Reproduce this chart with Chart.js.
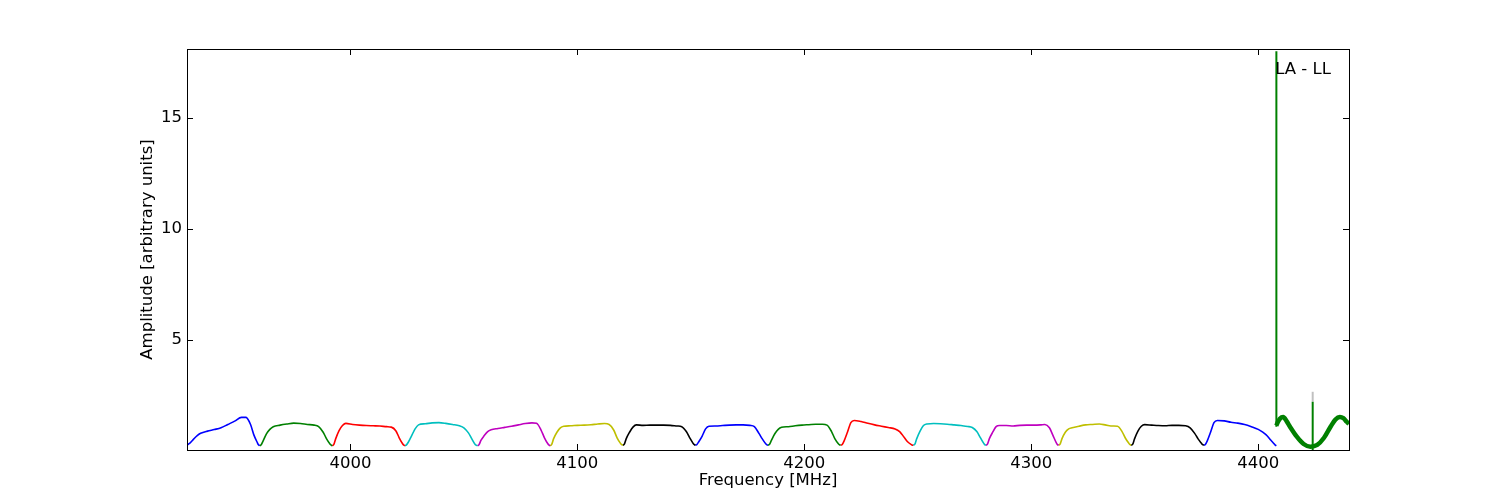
<!DOCTYPE html>
<html>
<head>
<meta charset="utf-8">
<title>LA - LL</title>
<script src="https://cdn.jsdelivr.net/npm/chart.js@4/dist/chart.umd.min.js"></script>
<style>
  body { margin: 0; background: #fff; }
  #chart { display: block; }
</style>
</head>
<body>
<canvas id="chart" width="1500" height="500"></canvas>
<script>
// band start frequencies (MHz), each band is 32 MHz wide
var bandStart = [3928, 3960, 3992, 4024, 4056, 4088, 4120, 4152, 4184, 4216, 4248, 4280, 4312, 4344, 4376, 4408];
// sample offsets inside a band (MHz)
var offsets = [0, 0.7, 1.5, 3, 4.5, 6, 9, 12, 15, 18, 21, 24, 26, 28, 29.5, 31, 31.4, 32];

// amplitude per band, one value per offset
var amp3928 = [0.27, 0.32, 0.38, 0.55, 0.70, 0.80, 0.90, 0.97, 1.05, 1.20, 1.35, 1.52, 1.52, 1.20, 0.72, 0.38, 0.30, 0.24];
var amp3960 = [0.24, 0.29, 0.45, 0.78, 0.98, 1.10, 1.17, 1.22, 1.26, 1.24, 1.20, 1.17, 1.10, 0.85, 0.55, 0.32, 0.28, 0.24];
var amp3992 = [0.24, 0.30, 0.55, 0.92, 1.15, 1.25, 1.20, 1.17, 1.15, 1.14, 1.13, 1.10, 1.08, 0.92, 0.60, 0.33, 0.28, 0.24];
var amp4024 = [0.24, 0.28, 0.40, 0.70, 1.00, 1.18, 1.23, 1.27, 1.28, 1.25, 1.20, 1.14, 1.05, 0.82, 0.55, 0.30, 0.27, 0.24];
var amp4056 = [0.24, 0.29, 0.48, 0.70, 0.88, 0.96, 1.02, 1.07, 1.12, 1.18, 1.24, 1.27, 1.25, 0.95, 0.60, 0.33, 0.28, 0.24];
var amp4088 = [0.24, 0.30, 0.55, 0.85, 1.05, 1.12, 1.14, 1.16, 1.17, 1.19, 1.22, 1.24, 1.20, 0.95, 0.60, 0.35, 0.30, 0.26];
var amp4120 = [0.26, 0.31, 0.55, 0.85, 1.08, 1.18, 1.16, 1.17, 1.17, 1.17, 1.16, 1.13, 1.10, 0.88, 0.60, 0.35, 0.30, 0.26];
var amp4152 = [0.26, 0.30, 0.42, 0.68, 1.00, 1.12, 1.13, 1.15, 1.17, 1.18, 1.18, 1.16, 1.10, 0.80, 0.55, 0.33, 0.29, 0.26];
var amp4184 = [0.26, 0.31, 0.48, 0.78, 0.98, 1.07, 1.10, 1.14, 1.17, 1.19, 1.21, 1.21, 1.17, 0.88, 0.55, 0.33, 0.29, 0.26];
var amp4216 = [0.26, 0.30, 0.45, 0.85, 1.28, 1.38, 1.33, 1.25, 1.18, 1.12, 1.06, 1.00, 0.88, 0.62, 0.42, 0.30, 0.28, 0.26];
var amp4248 = [0.26, 0.31, 0.55, 0.90, 1.15, 1.22, 1.24, 1.23, 1.21, 1.18, 1.15, 1.11, 1.06, 0.88, 0.62, 0.36, 0.30, 0.26];
var amp4280 = [0.26, 0.31, 0.55, 0.85, 1.10, 1.15, 1.15, 1.13, 1.16, 1.17, 1.17, 1.18, 1.20, 1.05, 0.72, 0.38, 0.31, 0.26];
var amp4312 = [0.26, 0.31, 0.55, 0.85, 1.00, 1.05, 1.12, 1.18, 1.20, 1.22, 1.17, 1.13, 1.12, 0.88, 0.58, 0.35, 0.30, 0.26];
var amp4344 = [0.26, 0.31, 0.55, 0.90, 1.12, 1.19, 1.17, 1.15, 1.14, 1.16, 1.16, 1.14, 1.05, 0.80, 0.55, 0.35, 0.30, 0.26];
var amp4376 = [0.26, 0.30, 0.45, 0.85, 1.28, 1.38, 1.36, 1.30, 1.26, 1.20, 1.10, 0.98, 0.85, 0.68, 0.50, 0.33, 0.28, 0.24];
var amp4408 = [1.15, 1.32, 1.45, 1.53, 1.35, 1.10, 0.65, 0.32, 0.20, 0.28, 0.60, 1.12, 1.42, 1.53, 1.48, 1.32, 1.28, 1.22];

// narrow spikes in the last band
var spikeFreq = [4408, 4424];
var spikeTop = [18.0, 2.22];
var spikeBase = [1.1, 0.05];
var ghostTop = 2.67;

var xTicks = [4000, 4100, 4200, 4300, 4400];
var yTicks = [5, 10, 15];

var bands = [amp3928, amp3960, amp3992, amp4024, amp4056, amp4088, amp4120, amp4152,
             amp4184, amp4216, amp4248, amp4280, amp4312, amp4344, amp4376, amp4408];
var colorCycle = ['#0000ff', '#008000', '#ff0000', '#00bfbf', '#bf00bf', '#bfbf00', '#000000'];
var FONT = 'DejaVu Sans';
var FONT_SIZE = 16.5;

var datasets = [];

bands.forEach(function(vals, i) {
    var last = i === bands.length - 1;
    datasets.push({
        data: offsets.map(function(o, j) { return { x: bandStart[i] + o, y: vals[j] }; }),
        borderColor: last ? '#008000' : colorCycle[i % colorCycle.length],
        borderWidth: last ? 4.5 : 1.6,
        cubicInterpolationMode: 'monotone',
        pointRadius: 0,
        order: 1
    });
});

spikeFreq.forEach(function(f, i) {
    datasets.push({
        data: [{ x: f, y: spikeBase[i] }, { x: f, y: spikeTop[i] }],
        borderColor: '#008000',
        borderWidth: 2,
        tension: 0,
        pointRadius: 0,
        order: 0
    });
});

// faint grey trace sticking out above the second spike
datasets.push({
    data: [{ x: spikeFreq[1], y: spikeTop[1] }, { x: spikeFreq[1], y: ghostTop }],
    borderColor: '#c0c0c0',
    borderWidth: 2,
    tension: 0,
    pointRadius: 0,
    order: 5
});

// frame, inward ticks and the in-plot label
var framePlugin = {
    id: 'frame',
    afterDatasetsDraw: function(chart) {
        var ctx = chart.ctx;
        var a = chart.chartArea;
        var xs = chart.scales.x, ys = chart.scales.y;
        var len = 6;
        ctx.save();
        ctx.strokeStyle = '#000';
        ctx.lineWidth = 1;
        ctx.beginPath();
        xTicks.forEach(function(v) {
            var px = Math.round(xs.getPixelForValue(v)) + 0.5;
            ctx.moveTo(px, a.bottom); ctx.lineTo(px, a.bottom - len);
            ctx.moveTo(px, a.top); ctx.lineTo(px, a.top + len);
        });
        yTicks.forEach(function(v) {
            var py = Math.round(ys.getPixelForValue(v)) + 0.5;
            ctx.moveTo(a.left, py); ctx.lineTo(a.left + len, py);
            ctx.moveTo(a.right, py); ctx.lineTo(a.right - len, py);
        });
        ctx.stroke();
        ctx.strokeRect(Math.round(a.left) + 0.5, Math.round(a.top) + 0.5,
                       Math.round(a.right - a.left), Math.round(a.bottom - a.top));

        ctx.fillStyle = '#000';
        ctx.font = FONT_SIZE + 'px "' + FONT + '"';
        ctx.textAlign = 'center';
        ctx.textBaseline = 'middle';
        ctx.fillText('LA - LL', 1303, 70);
        ctx.restore();
    }
};

new Chart(document.getElementById('chart'), {
    type: 'line',
    data: { datasets: datasets },
    plugins: [framePlugin],
    options: {
        responsive: false,
        animation: false,
        devicePixelRatio: 1,
        events: [],
        layout: { padding: { left: 134, top: 49, right: 151, bottom: 0 } },
        plugins: { legend: { display: false }, tooltip: { enabled: false } },
        scales: {
            x: {
                type: 'linear',
                min: 3928,
                max: 4440,
                grid: { display: false, drawTicks: false },
                border: { display: false },
                afterBuildTicks: function(scale) {
                    scale.ticks = xTicks.map(function(v) { return { value: v }; });
                },
                afterFit: function(scale) { scale.height = 50; },
                ticks: {
                    color: '#000',
                    padding: 4,
                    maxRotation: 0,
                    font: { family: FONT, size: FONT_SIZE },
                    callback: function(v) { return String(v); }
                },
                title: {
                    display: true,
                    text: 'Frequency [MHz]',
                    color: '#000',
                    font: { family: FONT, size: FONT_SIZE },
                    padding: { top: 0, bottom: 9 }
                }
            },
            y: {
                type: 'linear',
                min: 0.05,
                max: 18.1,
                grid: { display: false, drawTicks: false },
                border: { display: false },
                afterBuildTicks: function(scale) {
                    scale.ticks = yTicks.map(function(v) { return { value: v }; });
                },
                afterFit: function(scale) { scale.width = 53; },
                ticks: {
                    color: '#000',
                    padding: 5,
                    font: { family: FONT, size: FONT_SIZE },
                    callback: function(v) { return String(v); }
                },
                title: {
                    display: true,
                    text: 'Amplitude [arbitrary units]',
                    color: '#000',
                    font: { family: FONT, size: FONT_SIZE },
                    padding: { top: 4, bottom: 0 }
                }
            }
        }
    }
});
</script>
</body>
</html>
